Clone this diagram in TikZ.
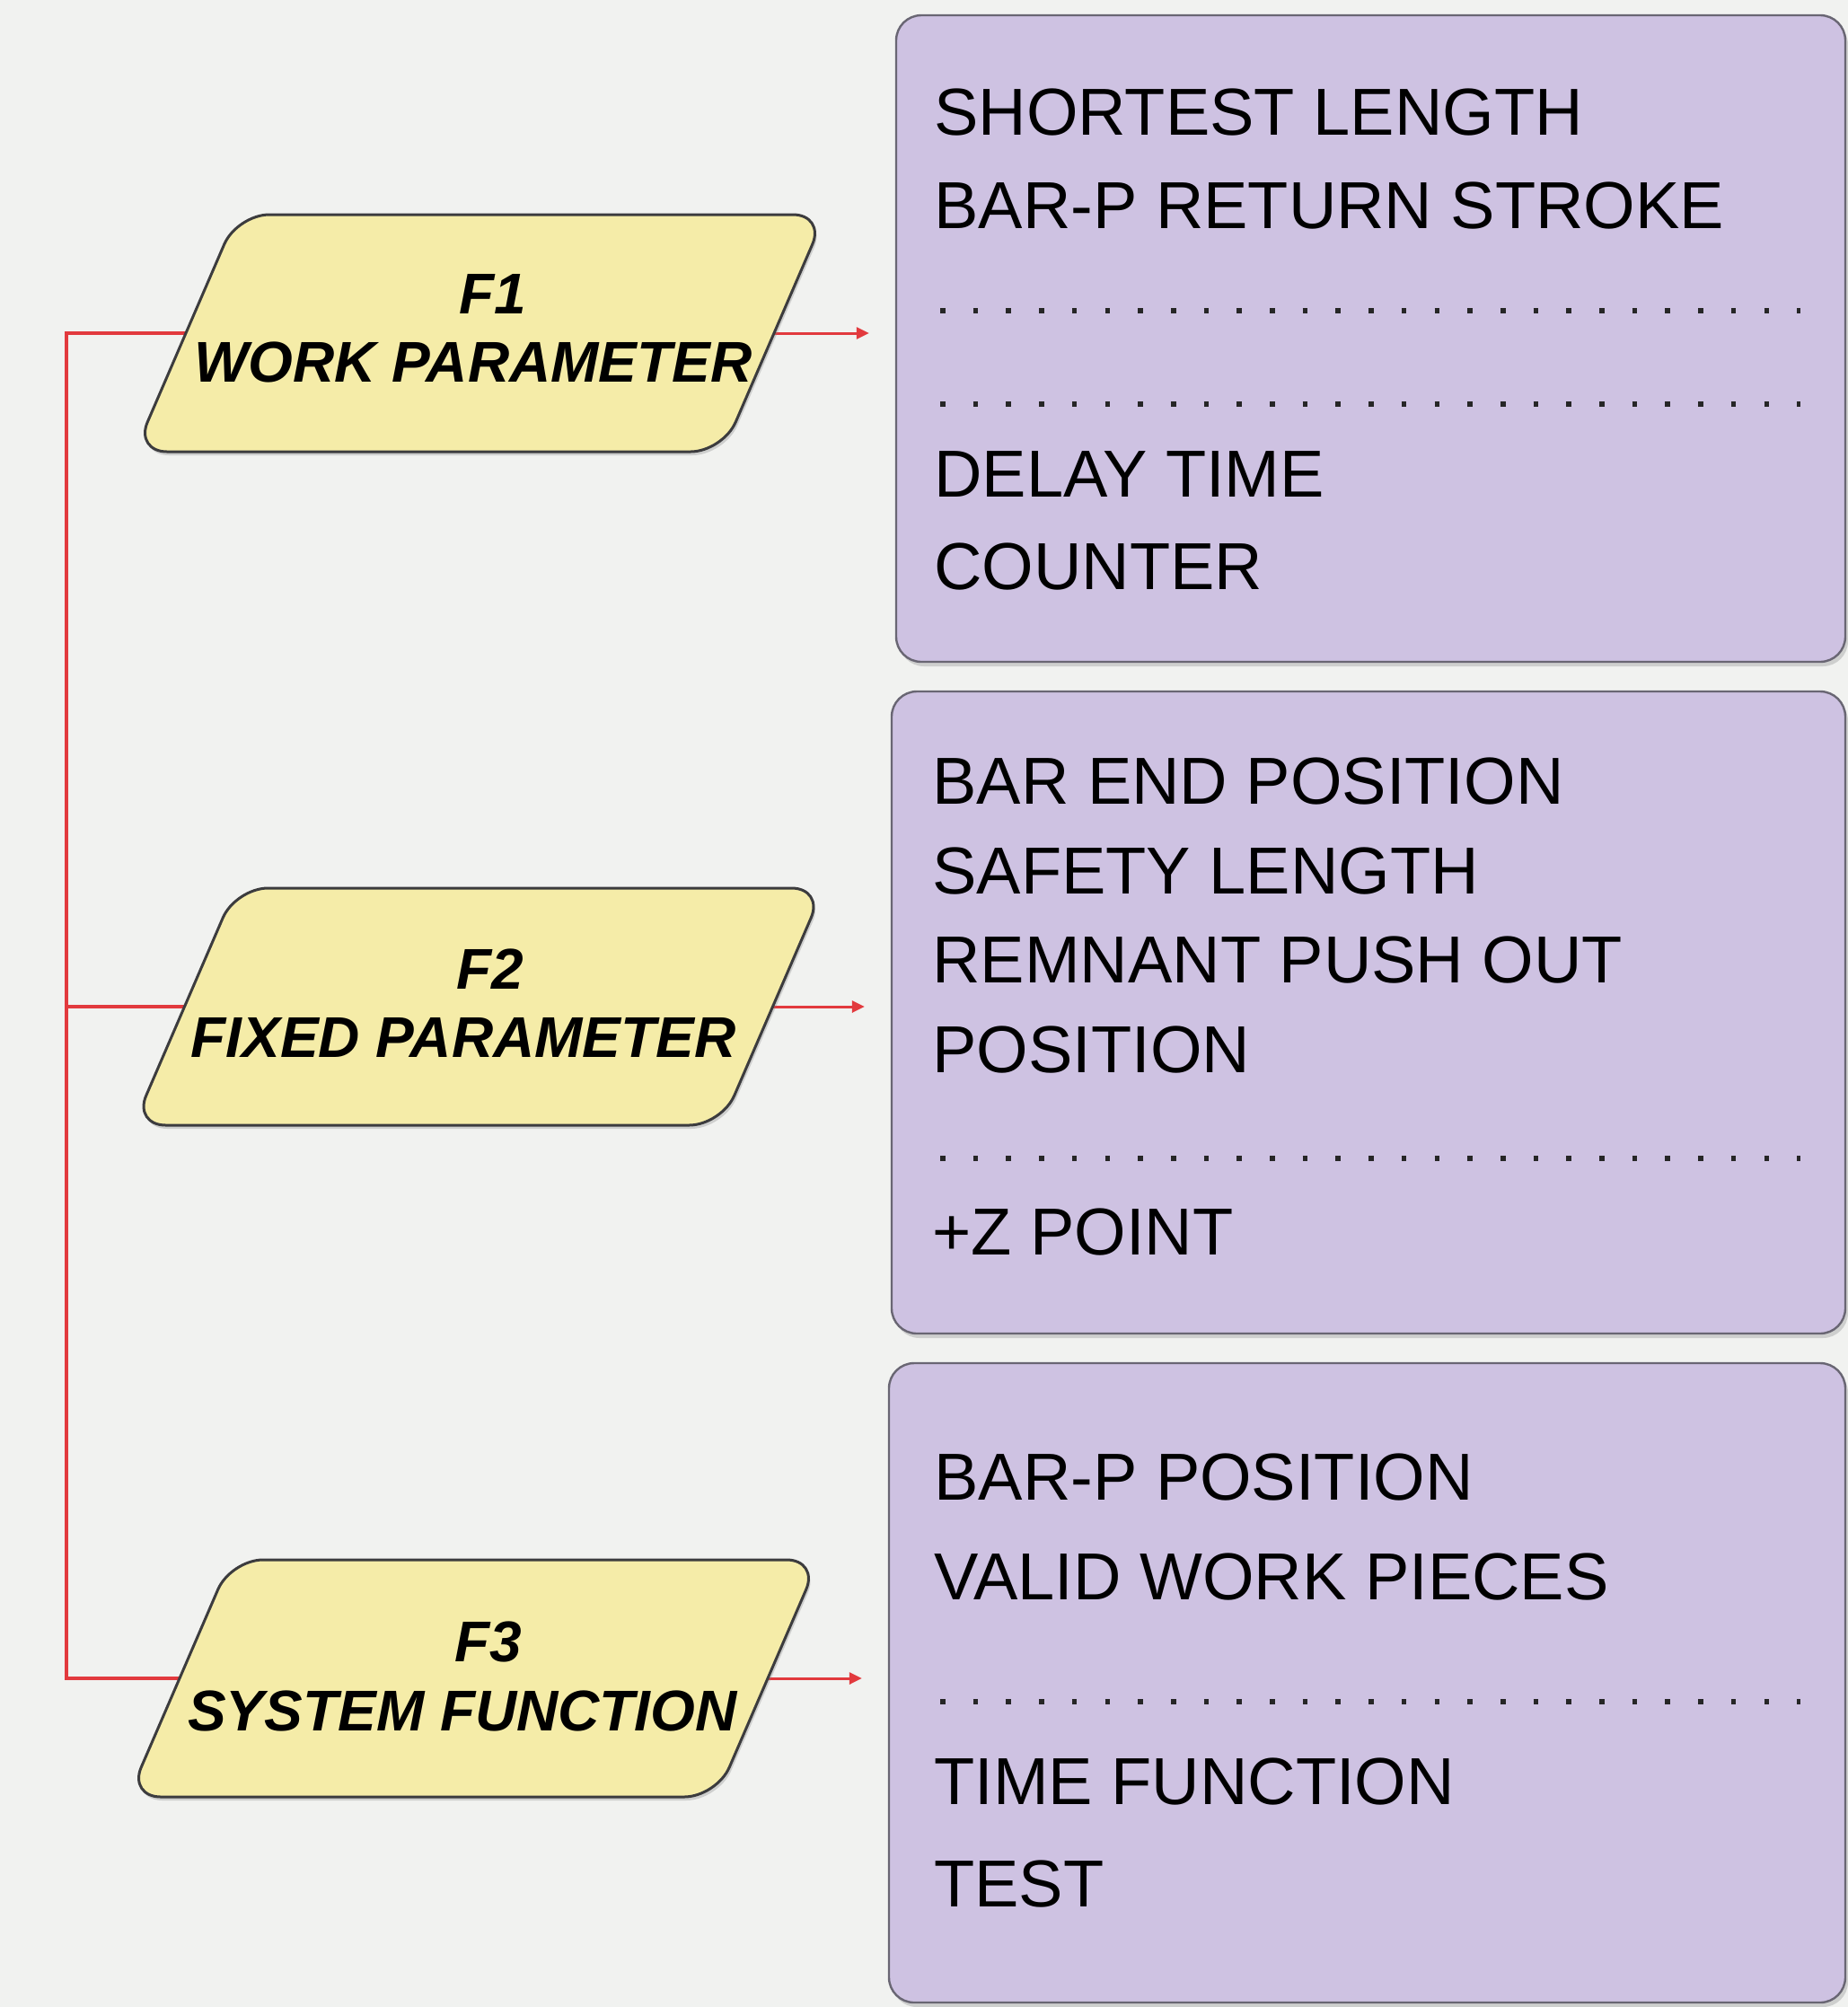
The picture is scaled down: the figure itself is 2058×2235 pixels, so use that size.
\documentclass[tikz,border=0pt]{standalone}
\usepackage{fontspec}
\setmainfont{Liberation Sans}
\usetikzlibrary{arrows.meta,shadows}
\definecolor{bg}{RGB}{241,242,240}
\definecolor{pyellow}{RGB}{245,236,168}
\definecolor{plilac}{RGB}{206,194,226}
\definecolor{lred}{RGB}{226,58,62}
\definecolor{bord}{RGB}{60,60,62}
\definecolor{bbord}{RGB}{105,102,115}
\begin{document}
\begin{tikzpicture}[x=0.5pt,y=-0.5pt,
  parabody/.style={rectangle, inner sep=0pt, outer sep=0pt, minimum width=327.5pt, minimum height=132pt},
  parashape/.style={draw=bord, line width=1.5pt, fill=pyellow, rounded corners=18pt,
    drop shadow={shadow xshift=1pt, shadow yshift=-2pt, opacity=0.3}},
  listbox/.style={rectangle, rounded corners=14pt, draw=bbord, line width=1.2pt,
    fill=plilac, inner sep=0pt,
    drop shadow={shadow xshift=1.5pt, shadow yshift=-2.5pt, opacity=0.3}},
  itemtext/.style={anchor=base west, inner sep=0pt, font=\fontsize{37}{44}\selectfont},
  ptext/.style={anchor=base, inner sep=0pt, font=\bfseries\itshape\fontsize{32}{38}\selectfont},
  dotrow/.style={line width=2.8pt, dash pattern=on 2.8pt off 15.55pt, black!85},
  redline/.style={draw=lred, line width=1.8pt},
  redarrow/.style={draw=lred, line width=1.5pt, -{Triangle[length=7pt,width=6.5pt]}}]
\useasboundingbox (0,0) rectangle (2058,2235);
\fill[bg] (0,0) rectangle (2058,2235);

% list boxes
\node[listbox, minimum width=528.5pt, minimum height=360pt] (b1) at (1526.5,377) {};
\node[listbox, minimum width=531pt, minimum height=357.5pt] (b2) at (1524,1127.5) {};
\node[listbox, minimum width=532.5pt, minimum height=356pt] (b3) at (1522.5,1874) {};

% connectors (behind the parallelograms)
\node[parabody] (f1) at (534.5,371) {};
\node[parabody] (f2) at (533,1121) {};
\node[parabody] (f3) at (527.5,1869) {};
\coordinate (j1) at (74,371);
\coordinate (j2) at (74,1121);
\coordinate (j3) at (74,1869);
\draw[redline] (f1.west) -- (j1) -- (j3) -- (f3.west);
\draw[redline] (j2) -- (f2.west);
\draw[redarrow] (f1.east) -- ([xshift=-14.5pt]f1.east -| b1.west);
\draw[redarrow] (f2.east) -- ([xshift=-14.5pt]f2.east -| b2.west);
\draw[redarrow] (f3.east) -- ([xshift=-14.5pt]f3.east -| b3.west);

% parallelograms
\foreach \n in {f1,f2,f3}{
  \path[parashape] ([xshift=28.5pt]\n.north west) -- ([xshift=28.5pt]\n.north east)
    -- ([xshift=-28.5pt]\n.south east) -- ([xshift=-28.5pt]\n.south west) -- cycle;
}

\node[ptext] (f1a) at (549,349) {F1};
\node[ptext] (f1b) at (527,425) {WORK PARAMETER};
\node[ptext] (f2a) at (546,1101) {F2};
\node[ptext] (f2b) at (516,1177) {FIXED PARAMETER};
\node[ptext] (f3a) at (544,1850) {F3};
\node[ptext] (f3b) at (515,1927) {SYSTEM FUNCTION};

% box 1 text
\node[itemtext] (t11) at (1040,150) {SHORTEST LENGTH};
\node[itemtext] (t12) at (1040,254) {BAR-P RETURN STROKE};
\draw[dotrow] (1047,346) -- (2005,346);
\draw[dotrow] (1047,450) -- (2005,450);
\node[itemtext] (t13) at (1040,553) {DELAY TIME};
\node[itemtext] (t14) at (1040,656) {COUNTER};

% box 2 text
\node[itemtext] (t21) at (1038,895) {BAR END POSITION};
\node[itemtext] (t22) at (1038,995) {SAFETY LENGTH};
\node[itemtext] (t23) at (1038,1094) {REMNANT PUSH OUT};
\node[itemtext] (t24) at (1038,1194) {POSITION};
\draw[dotrow] (1047,1290) -- (2005,1290);
\node[itemtext] (t25) at (1038,1397) {+Z POINT};

% box 3 text
\node[itemtext] (t31) at (1040,1670) {BAR-P POSITION};
\node[itemtext] (t32) at (1040,1781) {VALID WORK PIECES};
\draw[dotrow] (1047,1895) -- (2005,1895);
\node[itemtext] (t33) at (1040,2009) {TIME FUNCTION};
\node[itemtext] (t34) at (1040,2123) {TEST};
\end{tikzpicture}
\end{document}
